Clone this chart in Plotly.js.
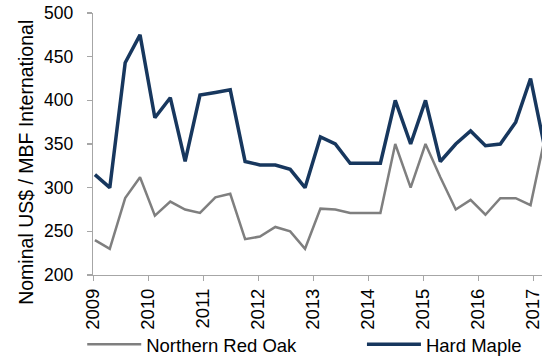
<!DOCTYPE html>
<html>
<head>
<meta charset="utf-8">
<script src="https://cdn.plot.ly/plotly-3.0.1.min.js"></script>
<style>
  html, body { margin: 0; padding: 0; background: #ffffff; }
  #chart { width: 542px; height: 358px; }
</style>
</head>
<body>
<div id="chart"></div>
<script>
// Sample dates, as decimal years
const dates = [
  2009.03, 2009.30, 2009.58, 2009.85, 2010.12, 2010.40, 2010.67, 2010.94,
  2011.22, 2011.49, 2011.76, 2012.03, 2012.31, 2012.58, 2012.85, 2013.13,
  2013.40, 2013.67, 2013.95, 2014.22, 2014.49, 2014.77, 2015.04, 2015.31,
  2015.59, 2015.86, 2016.13, 2016.40, 2016.68, 2016.95, 2017.22
];

// Prices, nominal US$ per MBF
const redOak = [
  240, 230, 288, 312, 268, 284, 275, 271, 289, 293, 241, 244, 255, 250, 230, 276,
  275, 271, 271, 271, 350, 300, 350, 312, 275, 286, 269, 288, 288, 280, 360
];
const hardMaple = [
  315, 300, 443, 475, 380, 403, 330, 406, 409, 412, 330, 326, 326, 321, 300, 358,
  350, 328, 328, 328, 400, 350, 400, 330, 350, 365, 348, 350, 375, 425, 342
];

const yearTicks = [2009, 2010, 2011, 2012, 2013, 2014, 2015, 2016, 2017];
const yearLabels = ['2009', '2010', '2011', '2012', '2013', '2014', '2015', '2016', '2017'];
const priceTicks = [200, 250, 300, 350, 400, 450, 500];

const FONT = 'Liberation Sans, Arial, sans-serif';
const AXIS_GREY = '#a6a6a6';

const traces = [
  {
    x: dates, y: redOak, name: 'Northern Red Oak',
    type: 'scatter', mode: 'lines', legend: 'legend',
    line: { color: '#7f7f7f', width: 2.5 }
  },
  {
    x: dates, y: hardMaple, name: 'Hard Maple',
    type: 'scatter', mode: 'lines', legend: 'legend2',
    line: { color: '#17375e', width: 3.5 }
  }
];

// One legend box per series, side by side under the axis labels
function legendAt(x) {
  return {
    orientation: 'h',
    x: x, xanchor: 'left',
    yref: 'container', y: 0.09, yanchor: 'top',
    font: { family: FONT, size: 18.5, color: '#000000' },
    itemwidth: 54,
    bgcolor: 'rgba(0,0,0,0)'
  };
}

const layout = {
  width: 542, height: 358,
  margin: { l: 93, r: 0, t: 13, b: 83, pad: 0 },
  paper_bgcolor: '#ffffff', plot_bgcolor: '#ffffff',
  font: { family: FONT, color: '#000000', size: 18 },
  showlegend: true,
  legend: legendAt(-0.024),
  legend2: legendAt(0.599),
  xaxis: {
    range: [2008.995, 2017.158],
    tickvals: yearTicks, ticktext: yearLabels,
    tickangle: -90,
    tickfont: { family: FONT, size: 18.5, color: '#000000' },
    ticklabeloverflow: 'allow',
    ticks: 'outside', ticklen: 5, tickwidth: 1.3, tickcolor: AXIS_GREY,
    showline: true, linecolor: AXIS_GREY, linewidth: 1.3,
    showgrid: false, zeroline: false,
    automargin: false, fixedrange: true
  },
  yaxis: {
    range: [200, 500],
    tickvals: priceTicks,
    tickfont: { family: FONT, size: 17.5, color: '#000000' },
    ticks: 'outside', ticklen: 5, tickwidth: 1.3, tickcolor: AXIS_GREY,
    ticklabelstandoff: 10,
    showline: true, linecolor: AXIS_GREY, linewidth: 1.3,
    showgrid: false, zeroline: false,
    automargin: false, fixedrange: true
  },
  annotations: [
    {
      text: 'Nominal US$ / MBF International',
      xref: 'paper', yref: 'paper',
      x: -0.151, y: 0.429,
      xanchor: 'center', yanchor: 'middle',
      textangle: -90, showarrow: false,
      font: { family: FONT, size: 19.5, color: '#000000' }
    }
  ]
};

Plotly.newPlot('chart', traces, layout, { displayModeBar: false, staticPlot: true });
</script>
</body>
</html>
